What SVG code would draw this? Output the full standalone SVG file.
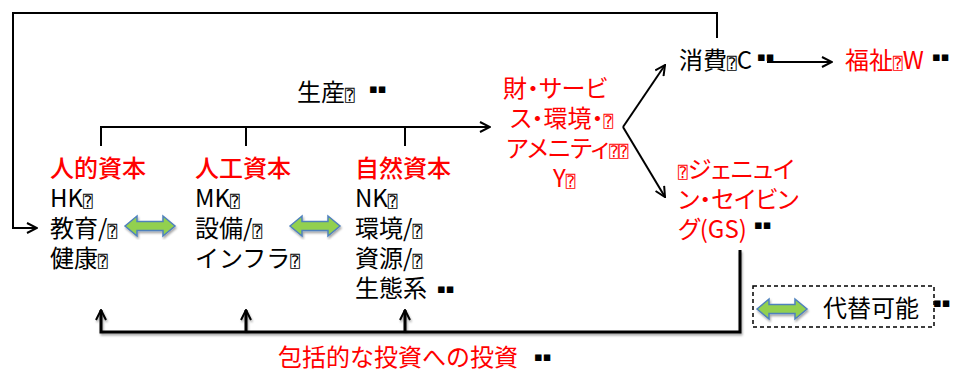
<svg xmlns="http://www.w3.org/2000/svg" width="954" height="374" viewBox="0 0 954 374">
<style>
text{font-family:"Noto Sans CJK JP","Noto Sans",sans-serif;font-size:24px;fill:#000}
.r{fill:#ff0000}
.h{font-weight:500}
.p{font-feature-settings:"palt"}
.t{font-family:"DejaVu Sans Mono","DejaVu Sans",monospace;font-size:16px}
.s{font-family:"DejaVu Sans",sans-serif;font-size:13px;fill:#000}
.ln{fill:none;stroke:#000;stroke-width:2}
.thick{stroke-width:3}
.ga{fill:#92d050;stroke:#4f81bd;stroke-width:1.5}
.box{fill:none;stroke:#000;stroke-width:1.5;stroke-dasharray:4 3}
</style>
<defs>
<marker id="ah" viewBox="0 0 12 12" refX="11" refY="6" markerWidth="12" markerHeight="12" markerUnits="userSpaceOnUse" orient="auto"><path d="M1,1 L11,6 L1,11" fill="none" stroke="#000" stroke-width="2"/></marker>
<path id="dbl" d="M0,10 L12,0 L12,5.5 L38,5.5 L38,0 L50,10 L38,20 L38,14.5 L12,14.5 L12,20 Z"/>
<filter id="sh" x="-10%" y="-10%" width="130%" height="130%"><feDropShadow dx="1" dy="2" stdDeviation="1" flood-color="#000" flood-opacity="0.35"/></filter>
</defs>

<g id="connectors">
<path class="ln" d="M717,38 V13 H13 V228 H37" marker-end="url(#ah)"/>
<path class="ln" d="M101,146 V127 H490" marker-end="url(#ah)"/>
<path class="ln" d="M246,146 V127"/>
<path class="ln" d="M405,146 V127"/>
<path class="ln" d="M623,127 L665,65" marker-end="url(#ah)"/>
<path class="ln" d="M623,127 L665,197" marker-end="url(#ah)"/>
<path class="ln" d="M767,62 H832" marker-end="url(#ah)"/>
<g filter="url(#sh)">
<path class="ln thick" d="M740,250 V332 H101 V310" marker-end="url(#ah)"/>
<path class="ln thick" d="M246,332 V310" marker-end="url(#ah)"/>
<path class="ln thick" d="M405,332 V310" marker-end="url(#ah)"/>
</g>
<use href="#dbl" class="ga" x="125" y="216" filter="url(#sh)"/>
<use href="#dbl" class="ga" x="290" y="216" filter="url(#sh)"/>
</g>

<g id="production-label">
<text x="297" y="101">生産<tspan class="t">⍰</tspan></text>
<text class="s" x="369" y="93">▪▪</text>
</g>

<g id="human-capital">
<text class="r h" x="50" y="177">人的資本</text>
<text x="50" y="207">HK<tspan class="t">⍰</tspan></text>
<text x="50" y="237">教育/<tspan class="t">⍰</tspan></text>
<text x="50" y="267">健康<tspan class="t">⍰</tspan></text>
</g>

<g id="manufactured-capital">
<text class="r h" x="195" y="177">人工資本</text>
<text x="195" y="207">MK<tspan class="t">⍰</tspan></text>
<text x="195" y="237">設備/<tspan class="t">⍰</tspan></text>
<text x="195" y="267">インフラ<tspan class="t">⍰</tspan></text>
</g>

<g id="natural-capital">
<text class="r h" x="355" y="177">自然資本</text>
<text x="355" y="207">NK<tspan class="t">⍰</tspan></text>
<text x="355" y="237">環境/<tspan class="t">⍰</tspan></text>
<text x="355" y="267">資源/<tspan class="t">⍰</tspan></text>
<text x="355" y="297">生態系</text>
<text class="s" x="437" y="293">▪▪</text>
</g>

<g id="goods">
<text class="r p" x="503" y="97">財・サービ</text>
<text class="r p" x="510" y="127">ス・環境・<tspan class="t r">⍰</tspan></text>
<text class="r p" x="506" y="157">アメニティ<tspan class="t r">⍰⍰</tspan></text>
<text class="r p" x="553" y="187">Y<tspan class="t r">⍰</tspan></text>
</g>

<g id="consumption">
<text x="679" y="69">消費<tspan class="t">⍰</tspan>C</text>
<text class="s" x="757" y="61">▪▪</text>
</g>

<g id="welfare">
<text class="r" x="845" y="69">福祉<tspan class="t r">⍰</tspan>W</text>
<text class="s" x="932" y="61">▪▪</text>
</g>

<g id="genuine-saving">
<text class="r p" x="678" y="178"><tspan class="t r">⍰</tspan>ジェニュイ</text>
<text class="r p" x="678" y="208">ン・セイビン</text>
<text class="r p" x="678" y="238">グ(GS)</text>
<text class="s" x="754" y="229">▪▪</text>
</g>

<g id="substitutable">
<rect class="box" x="753" y="286" width="181" height="41"/>
<use href="#dbl" class="ga" x="757" y="299" filter="url(#sh)"/>
<text x="823" y="317">代替可能</text>
<text class="s" x="933" y="307">▪▪</text>
</g>

<g id="investment-label">
<text class="r" x="278" y="366">包括的な投資への投資</text>
<text class="s" x="534" y="361">▪▪</text>
</g>
</svg>
